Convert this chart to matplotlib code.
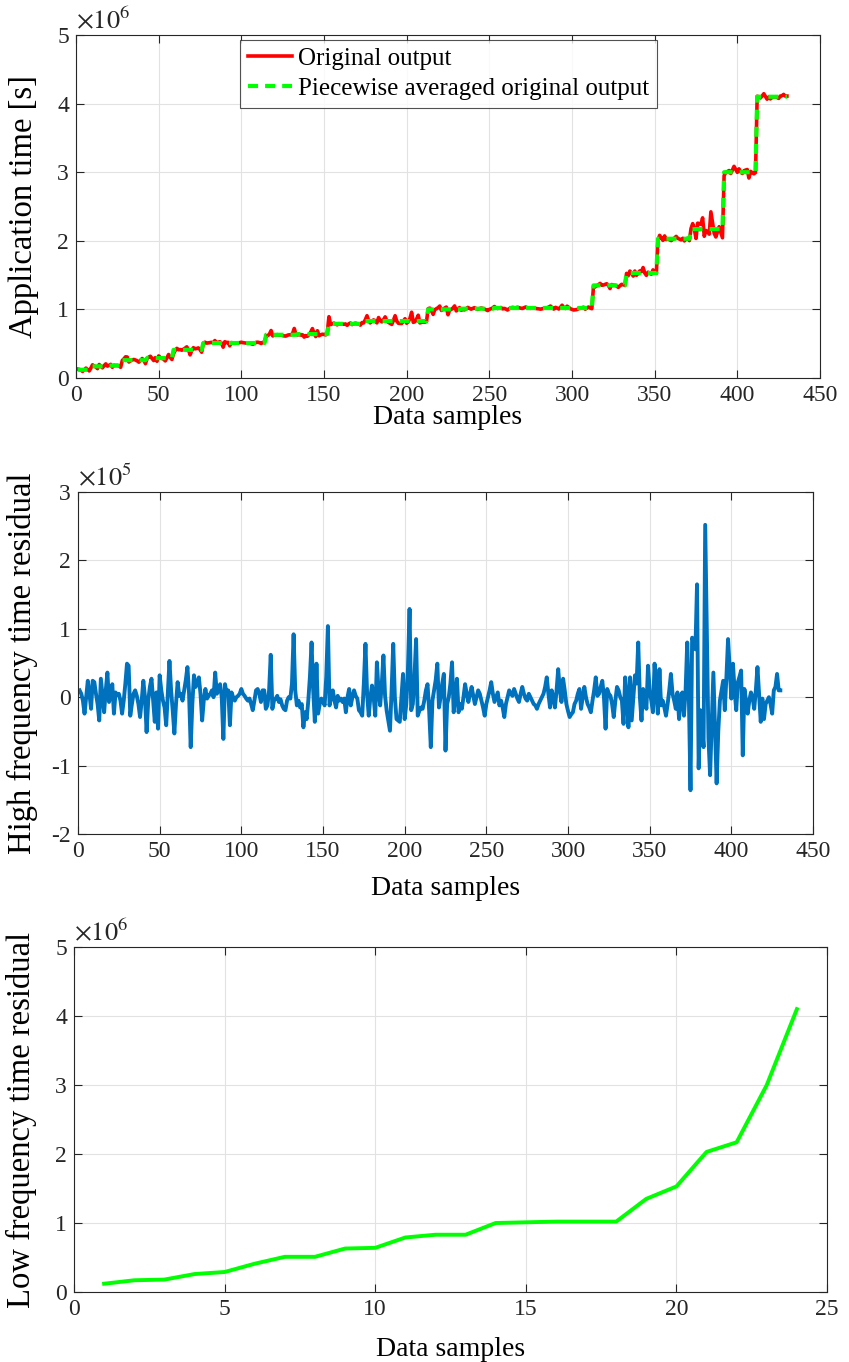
import numpy as np
import matplotlib.pyplot as plt

# piecewise levels (x 1e6) and the number of samples in each piece
levels = [0.12, 0.17, 0.18, 0.26, 0.29, 0.41, 0.51, 0.51, 0.63, 0.64, 0.79, 0.83,
          0.83, 1.00, 1.01, 1.02, 1.02, 1.02, 1.35, 1.53, 2.03, 2.17, 3.00, 4.10]
seg_len = [9, 9, 9, 15, 16, 18, 19, 19, 19, 19, 20, 20,
           20, 20, 20, 20, 20, 20, 20, 19, 20, 20, 20, 19]

# high frequency residual (x 1e5), one value per sample
hf = [
    0.10, 0.05, -0.05, -0.24, 0.00, 0.24, 0.05, -0.17, 0.24, 0.22,
    0.05, -0.10, -0.34, 0.27, 0.02, -0.22, 0.10, 0.36, -0.07, 0.05,
    0.19, -0.24, 0.07, 0.03, 0.05, -0.05, -0.24, -0.05, 0.20, 0.49,
    0.46, -0.27, -0.10, 0.05, 0.10, 0.02, -0.10, -0.29, -0.05, 0.24,
    0.00, -0.51, -0.05, 0.15, 0.27, -0.05, -0.36, 0.07, -0.46, 0.32,
    0.10, -0.05, -0.15, -0.41, 0.05, 0.53, 0.10, -0.20, -0.53, -0.10,
    0.22, 0.02, 0.05, -0.05, 0.10, 0.25, 0.44, 0.05, -0.73, -0.10,
    0.32, 0.15, 0.20, 0.29, 0.05, -0.34, -0.05, 0.12, -0.02, 0.02,
    0.05, 0.10, 0.00, 0.36, 0.05, 0.10, 0.19, 0.00, -0.61, 0.19,
    0.05, 0.10, -0.41, 0.07, 0.00, -0.05, 0.00, 0.02, 0.05, 0.12,
    0.05, 0.02, -0.02, -0.05, -0.02, -0.10, -0.19, -0.05, 0.10, 0.12,
    0.05, -0.07, 0.10, 0.10, -0.17, -0.12, 0.10, 0.62, -0.17, -0.05,
    -0.02, 0.02, -0.07, -0.03, -0.12, -0.17, -0.19, -0.05, 0.00, -0.02,
    0.20, 0.92, 0.10, -0.12, -0.05, -0.15, -0.10, -0.44, -0.22, -0.32,
    -0.05, 0.30, 0.80, 0.10, -0.36, 0.49, -0.24, -0.10, -0.02, -0.05,
    -0.12, 0.30, 1.04, -0.12, 0.00, 0.10, -0.05, -0.15, 0.02, -0.05,
    -0.02, -0.07, -0.02, -0.22, 0.00, 0.12, -0.12, 0.00, 0.10, 0.02,
    -0.02, -0.19, -0.22, -0.27, 0.20, 0.78, 0.05, -0.27, 0.00, 0.17,
    0.00, -0.27, 0.51, 0.10, -0.12, 0.20, 0.61, 0.02, -0.20, -0.35,
    -0.49, 0.10, 0.78, 0.00, -0.32, -0.34, -0.36, 0.00, 0.34, -0.32,
    -0.10, 0.40, 1.29, -0.19, -0.10, 0.30, 0.85, -0.27, -0.20, -0.15,
    -0.17, -0.05, 0.10, 0.19, -0.20, -0.73, -0.05, 0.10, 0.25, 0.49,
    -0.15, 0.00, 0.20, 0.34, -0.78, -0.10, 0.00, 0.20, 0.51, -0.22,
    0.00, 0.27, -0.22, -0.10, -0.17, 0.00, 0.19, 0.05, -0.07, 0.05,
    0.15, 0.02, -0.10, 0.00, 0.10, 0.05, -0.05, -0.15, -0.27, -0.10,
    0.00, 0.10, 0.22, 0.05, -0.07, 0.00, 0.07, -0.12, -0.05, -0.15,
    -0.29, -0.10, 0.00, 0.10, 0.05, 0.02, 0.12, 0.05, -0.02, -0.07,
    0.05, 0.15, 0.05, -0.02, -0.05, 0.05, 0.00, -0.05, -0.10, -0.12,
    -0.17, -0.10, -0.05, 0.00, 0.05, 0.15, 0.29, 0.05, -0.15, 0.10,
    0.00, -0.15, 0.10, 0.41, 0.10, -0.07, 0.27, 0.10, -0.10, -0.20,
    -0.29, -0.25, -0.22, -0.10, -0.05, 0.05, 0.12, -0.17, 0.00, 0.15,
    0.00, -0.10, -0.15, -0.22, -0.05, 0.10, 0.29, 0.02, 0.05, 0.15,
    0.24, 0.00, -0.46, 0.12, 0.05, 0.02, -0.10, -0.29, -0.05, 0.15,
    0.10, 0.00, -0.05, -0.39, 0.29, 0.00, -0.44, 0.29, -0.34, 0.00,
    0.32, 0.20, 0.80, 0.00, -0.34, 0.12, 0.00, -0.17, 0.46, 0.10,
    -0.05, -0.22, 0.49, 0.10, -0.24, 0.41, -0.12, -0.05, -0.15, -0.27,
    -0.10, 0.10, 0.34, 0.05, -0.05, -0.17, 0.07, -0.32, 0.00, 0.07,
    -0.27, 0.10, 0.80, 0.00, -1.36, 0.87, 0.80, 0.70, 1.65, -1.04,
    -0.19, -0.40, -0.73, 2.52, 1.00, -0.60, -1.14, -0.40, 0.36, -0.45,
    -1.26, -0.50, -0.05, 0.10, 0.24, -0.19, 0.30, 0.85, 0.40, -0.02,
    0.49, 0.10, -0.19, 0.22, 0.30, 0.39, -0.85, 0.12, -0.05, -0.24,
    -0.05, 0.07, 0.00, -0.17, 0.10, 0.44, 0.05, -0.36, -0.02, -0.32,
    -0.10, -0.05, 0.00, -0.10, -0.24, 0.10, 0.15, 0.34, 0.10, 0.10,
]

samples = np.arange(1, len(hf) + 1)
avg = np.repeat(np.array(levels) * 1e6, seg_len)
resid = np.array(hf) * 1e5
orig = avg + resid
pieces = np.arange(1, len(levels) + 1)

plt.rcParams['font.family'] = 'Liberation Serif'
plt.rcParams['mathtext.fontset'] = 'stix'

W, H = 849, 1362
fig = plt.figure(figsize=(W / 100, H / 100), dpi=100)


def add_ax(l, r, t, b):
    return fig.add_axes([l / W, 1 - b / H, (r - l) / W, (b - t) / H])


def style(ax, exp, ylab, xpad):
    ax.grid(True, color='#e2e2e2', lw=0.8)
    ax.set_axisbelow(True)
    ax.tick_params(direction='in', top=True, right=True, length=6, width=0.8,
                   labelsize=17, colors='#262626', pad=5)
    for s in ax.spines.values():
        s.set_color('#262626')
        s.set_linewidth(0.8)
    ax.text(0.0, 1.004, r'$\times10^{%d}$' % exp, transform=ax.transAxes,
            fontsize=19, color='#262626', va='bottom', ha='left')
    ax.set_xlabel('Data samples', fontsize=20, labelpad=xpad)
    ax.set_ylabel(ylab, fontsize=23.5)


# top: original output and piecewise average
ax1 = add_ax(76, 820, 35, 378)
ax1.plot(samples, orig, color='red', lw=2.6, label='Original output')
ax1.plot(samples, avg, color='#00ff00', lw=3.0, dashes=(2.4, 1.7),
         label='Piecewise averaged original output')
ax1.set_xlim(0, 450)
ax1.set_ylim(0, 5e6)
ax1.set_xticks(np.arange(0, 451, 50))
ax1.set_yticks(np.arange(0, 5.1e6, 1e6))
ax1.set_yticklabels([str(i) for i in range(6)])
style(ax1, 6, 'Application time [s]', -1)
ax1.yaxis.set_label_coords(-0.050, 0.5)
leg = ax1.legend(loc='upper left', bbox_to_anchor=(0.221, 0.985), fontsize=18,
                 frameon=True, fancybox=False, edgecolor='#262626',
                 handlelength=1.75, handletextpad=0.25, labelspacing=0.3,
                 borderpad=0.3, borderaxespad=0)
leg.get_frame().set_linewidth(0.8)

# middle: high frequency residual
ax2 = add_ax(78, 813, 492, 834)
ax2.plot(samples, resid, color='#0072BD', lw=2.8)
ax2.set_xlim(0, 450)
ax2.set_ylim(-2e5, 3e5)
ax2.set_xticks(np.arange(0, 451, 50))
ax2.set_yticks(np.arange(-2e5, 3.1e5, 1e5))
ax2.set_yticklabels([str(i) for i in range(-2, 4)])
style(ax2, 5, 'High frequency time residual', 10)
ax2.yaxis.set_label_coords(-0.054, 0.5)

# bottom: low frequency residual
ax3 = add_ax(74, 827, 947, 1292)
ax3.plot(pieces, np.array(levels) * 1e6, color='#00ff00', lw=2.8)
ax3.set_xlim(0, 25)
ax3.set_ylim(0, 5e6)
ax3.set_xticks(np.arange(0, 26, 5))
ax3.set_yticks(np.arange(0, 5.1e6, 1e6))
ax3.set_yticklabels([str(i) for i in range(6)])
style(ax3, 6, 'Low frequency time residual', 12)
ax3.yaxis.set_label_coords(-0.049, 0.5)

fig.savefig('out.png', dpi=100)
